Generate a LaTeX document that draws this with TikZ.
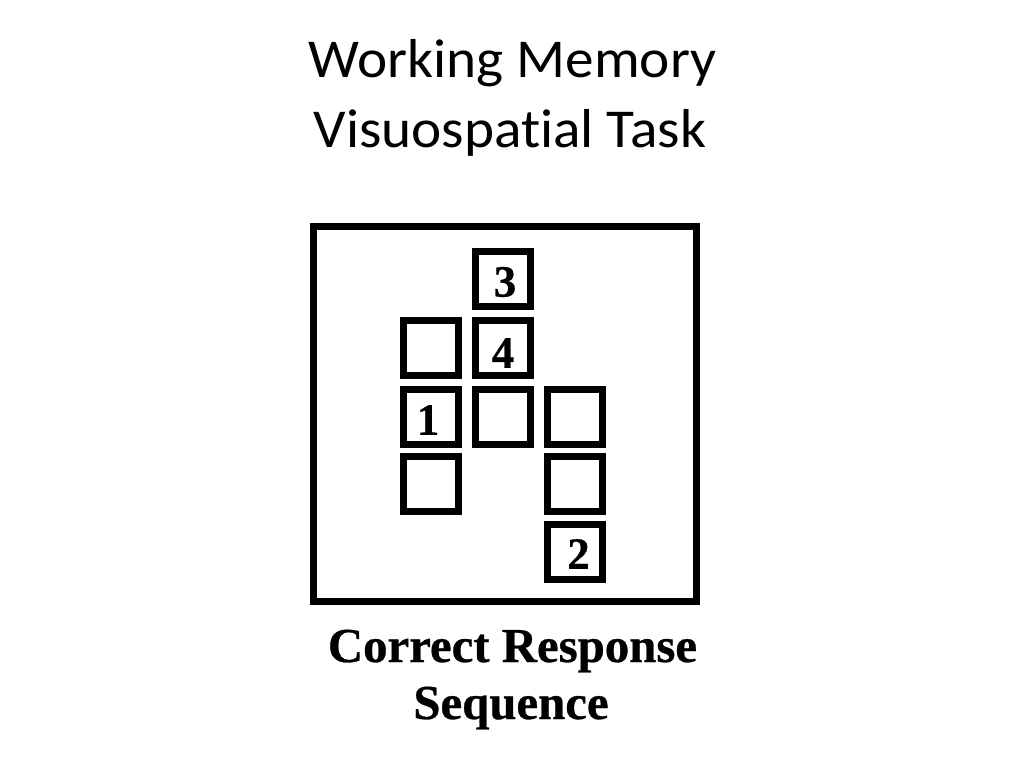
\documentclass[tikz,border=0pt]{standalone}
\usepackage{fontspec}
\setmainfont{Carlito}
\newfontfamily\titlefont[FakeStretch=1.045,Ligatures=NoCommon]{Carlito}
\newfontfamily\heavyserif[FakeBold=0.6]{Liberation Serif Bold}
\begin{document}
\begin{tikzpicture}[x=1bp,y=-1bp,
  cell/.style={draw=black, line width=7bp, minimum size=55bp, inner sep=0pt, anchor=center},
  digit/.style={font=\heavyserif\fontsize{45}{45}\selectfont, inner sep=0pt, anchor=center},
  titleline/.style={font=\titlefont\fontsize{55}{66}\selectfont, inner sep=0pt, anchor=base},
  capline/.style={font=\heavyserif\fontsize{49}{57}\selectfont, inner sep=0pt, anchor=base}]
\useasboundingbox[fill=white] (0,0) rectangle (1024,768);
\node[titleline] (title1) at (512.5,78) {Working Memory};
\node[titleline] (title2) at (510,147) {Visuospatial Task};
\node[draw=black, line width=6.5bp, minimum width=383bp, minimum height=375bp, inner sep=0pt] (frame) at (505,414) {};
\node[cell] (c3) at (503,279) {};
\node[cell] (a2) at (431,347.5) {};
\node[cell] (c4) at (503,347.5) {};
\node[cell] (c1) at (431,417) {};
\node[cell] (b3) at (503,417) {};
\node[cell] (d3) at (575,417) {};
\node[cell] (a4) at (431,484) {};
\node[cell] (d4) at (575,484) {};
\node[cell] (c2) at (575,551.5) {};
\node[digit] (n3) at (505,282) {3};
\node[digit] (n4) at (503,353) {4};
\node[digit] (n1) at (428,420) {1};
\node[digit] (n2) at (578.5,554) {2};
\node[capline] (cap1) at (512.5,662) {Correct Response};
\node[capline] (cap2) at (511,719) {Sequence};
\end{tikzpicture}
\end{document}
